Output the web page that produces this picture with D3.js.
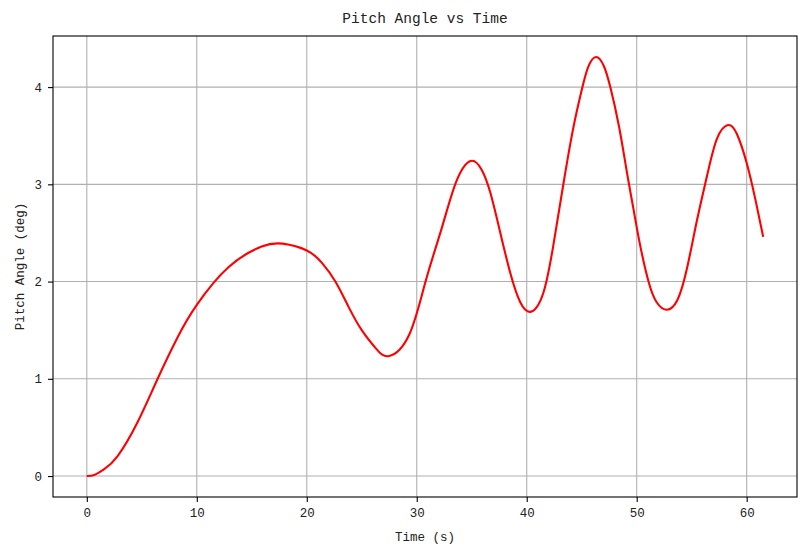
<!DOCTYPE html>
<html>
<head>
<meta charset="utf-8">
<script src="https://cdn.jsdelivr.net/npm/d3@7"></script>
<style>
body{margin:0;background:#fff;}
text{font-family:"Liberation Mono","DejaVu Sans Mono",monospace;fill:#222;}
</style>
</head>
<body>
<div id="svg-container"></div>
<script>
// time samples (s)
var timeS=[0,0.67,1.58,2.8,4.6,6.44,8.27,10,12.9,15.9,17.8,20.0,21.4,22.6,23.8,25.0,26.3,27.5,29.3,30.8,32.3,33.6,34.9,35.9,36.7,37.6,38.5,39.4,40.4,41.5,42.4,43.3,44.2,45.0,45.6,46.3,47.0,47.6,48.4,49.1,49.7,50.3,51.1,51.8,52.7,53.7,54.6,55.5,56.4,57.3,58.3,59.1,60.0,60.8,61.5];
// pitch angle (deg)
var pitchDeg=[0,0.01,0.07,0.205,0.55,1.0,1.43,1.76,2.15,2.36,2.39,2.32,2.19,2.00,1.74,1.50,1.31,1.235,1.45,2.0,2.56,3.03,3.24,3.15,2.91,2.50,2.09,1.79,1.69,1.88,2.36,2.98,3.56,3.97,4.21,4.31,4.22,4.0,3.59,3.13,2.75,2.38,1.99,1.79,1.71,1.81,2.15,2.64,3.09,3.47,3.61,3.52,3.22,2.84,2.46];
var xTicks=[0,10,20,30,40,50,60];
var yTicks=[0,1,2,3,4];

var width=809,height=555;
var margin={left:53,right:12,top:36,bottom:58};
var plotW=width-margin.left-margin.right;
var plotH=height-margin.top-margin.bottom;

var xMin=d3.min(timeS),xMax=d3.max(timeS);
var yMin=d3.min(pitchDeg),yMax=d3.max(pitchDeg);
var xPad=(xMax-xMin)*0.05,yPad=(yMax-yMin)*0.05;

var x=d3.scaleLinear().domain([xMin-xPad,xMax+xPad]).range([0,plotW]);
var y=d3.scaleLinear().domain([yMin-yPad,yMax+yPad]).range([plotH,0]);

var svg=d3.select('#svg-container').append('svg').attr('width',width).attr('height',height);
var g=svg.append('g').attr('transform','translate('+margin.left+','+margin.top+')');

// grid
g.append('g').selectAll('line').data(xTicks).enter().append('line')
	.attr('x1',function(d){return x(d)}).attr('x2',function(d){return x(d)})
	.attr('y1',0).attr('y2',plotH)
	.attr('stroke','#b0b0b0').attr('stroke-width',1.1);
g.append('g').selectAll('line').data(yTicks).enter().append('line')
	.attr('x1',0).attr('x2',plotW)
	.attr('y1',function(d){return y(d)}).attr('y2',function(d){return y(d)})
	.attr('stroke','#b0b0b0').attr('stroke-width',1.1);

// curve
var line=d3.line().x(function(d,i){return x(timeS[i])}).y(function(d){return y(d)}).curve(d3.curveNatural);
g.append('path').datum(pitchDeg).attr('d',line)
	.attr('fill','none').attr('stroke','#ff0000').attr('stroke-width',2.1);

// axes
var xAxis=g.append('g').attr('transform','translate(0,'+plotH+')')
	.call(d3.axisBottom(x).tickValues(xTicks).tickSize(5).tickPadding(6).tickFormat(d3.format('d')));
var yAxis=g.append('g')
	.call(d3.axisLeft(y).tickValues(yTicks).tickSize(5).tickPadding(6).tickFormat(d3.format('d')));
[xAxis,yAxis].forEach(function(a){
	a.select('.domain').remove();
	a.selectAll('.tick line').attr('stroke','#000').attr('stroke-width',1.1);
	a.selectAll('.tick text').attr('font-family',null).style('font-size','12.5px').attr('fill','#222');
});

// frame
g.append('rect').attr('x',0).attr('y',0).attr('width',plotW).attr('height',plotH)
	.attr('fill','none').attr('stroke','#000').attr('stroke-width',1.1);

// titles
svg.append('text').text('Pitch Angle vs Time')
	.attr('x',margin.left+plotW/2).attr('y',23).attr('text-anchor','middle').style('font-size','14.5px');
svg.append('text').text('Time (s)')
	.attr('x',margin.left+plotW/2).attr('y',541).attr('text-anchor','middle').style('font-size','12.5px');
svg.append('text').text('Pitch Angle (deg)')
	.attr('transform','translate(24,'+(margin.top+plotH/2)+') rotate(-90)')
	.attr('text-anchor','middle').style('font-size','12.5px');
</script>
</body>
</html>
